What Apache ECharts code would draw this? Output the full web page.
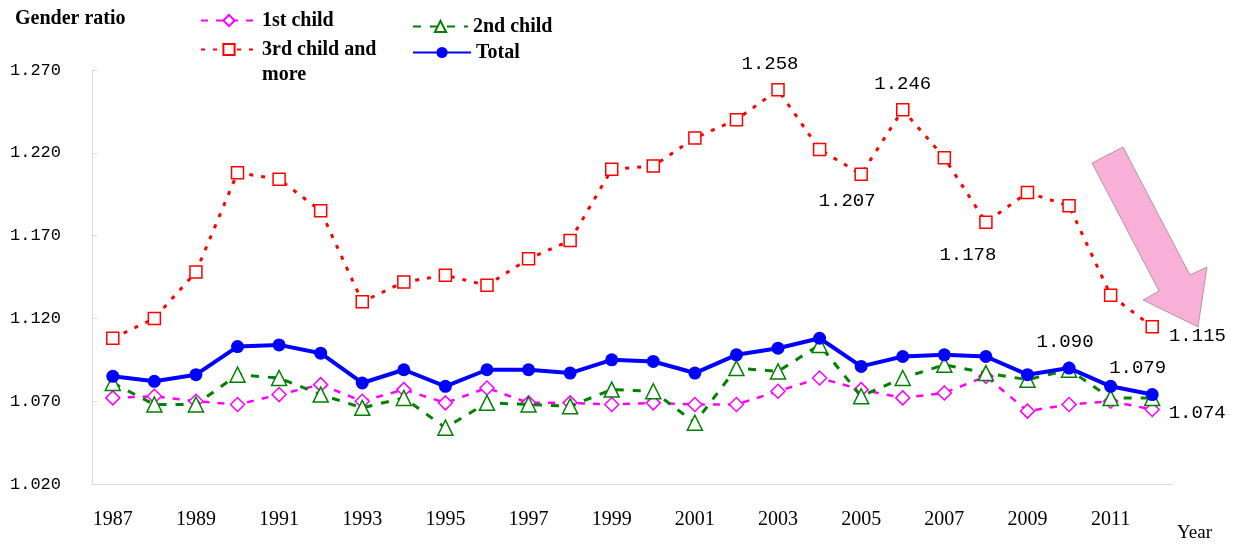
<!DOCTYPE html>
<html>
<head>
<meta charset="utf-8">
<script src="https://cdn.jsdelivr.net/npm/echarts@6/dist/echarts.min.js"></script>
<style>html,body{margin:0;padding:0;background:#fff}#c{width:1240px;height:544px}</style>
</head>
<body>
<div id="c"></div>
<script>
const years = ['1987','1988','1989','1990','1991','1992','1993','1994','1995','1996','1997','1998','1999','2000','2001','2002','2003','2004','2005','2006','2007','2008','2009','2010','2011','2012'];
const firstChild = [1.072,1.073,1.070,1.068,1.074,1.080,1.070,1.077,1.069,1.078,1.069,1.069,1.068,1.069,1.068,1.068,1.076,1.084,1.077,1.072,1.075,1.085,1.064,1.068,1.070,1.065];
const secondChild = [1.081,1.068,1.068,1.086,1.084,1.074,1.066,1.072,1.054,1.069,1.068,1.067,1.077,1.076,1.057,1.090,1.088,1.104,1.073,1.084,1.092,1.087,1.083,1.089,1.072,1.072];
const thirdPlus = [1.108,1.120,1.148,1.208,1.204,1.185,1.130,1.142,1.146,1.140,1.156,1.167,1.210,1.212,1.229,1.240,1.258,1.222,1.207,1.246,1.217,1.178,1.196,1.188,1.134,1.115];
const total = [1.085,1.082,1.086,1.103,1.104,1.099,1.081,1.089,1.079,1.089,1.089,1.087,1.095,1.094,1.087,1.098,1.102,1.108,1.091,1.097,1.098,1.097,1.086,1.090,1.079,1.074];
const yTicks = {min: 1.02, max: 1.27, step: 0.05};
const seriesNames = ['1st child', '2nd child', '3rd child and\nmore', 'Total'];
const thirdLabelled = {'2003': 'top', '2006': 'top', '2005': 'bottom', '2008': 'bottom', '2012': 'right'};
const totalLabelled = {'2010': 'top', '2011': 'top', '2012': 'right'};

const serif = 'Liberation Serif';
const mono = 'Liberation Mono';
const lblFont = {fontFamily: mono, fontSize: 19, color: '#000'};

function withLabels(values, labelled, offsets) {
  return values.map((v, i) => {
    const y = years[i];
    if (!labelled[y]) return v;
    return {value: v, label: Object.assign({show: true, position: labelled[y], distance: 10,
      formatter: p => p.value.toFixed(3), offset: offsets[y] || [0, 0]}, lblFont)};
  });
}

const chart = echarts.init(document.getElementById('c'), null, {renderer: 'canvas'});
const legendText = {fontFamily: serif, fontSize: 20, fontWeight: 'bold', color: '#000', lineHeight: 25};
const legendBase = {padding: 0, itemWidth: 56, itemHeight: 14, textStyle: legendText, selectedMode: false};

chart.setOption({
  animation: false,
  backgroundColor: '#fff',
  grid: {left: 92, right: 67, top: 70, bottom: 60, containLabel: false},
  legend: [
    Object.assign({}, legendBase, {data: [seriesNames[0]], left: 200, top: 8}),
    Object.assign({}, legendBase, {data: [seriesNames[1]], left: 412, top: 14, itemWidth: 55}),
    Object.assign({}, legendBase, {data: [seriesNames[2]], left: 200, top: 12,
      formatter: n => ' \n' + n}),
    Object.assign({}, legendBase, {data: [seriesNames[3]], left: 412, top: 40, itemWidth: 58})
  ],
  xAxis: {
    type: 'category', data: years, boundaryGap: true,
    axisLine: {lineStyle: {color: '#d9d9d9', width: 1}},
    axisTick: {inside: true, length: 6, interval: 0, lineStyle: {color: '#d9d9d9'}},
    axisLabel: {interval: 1, margin: 26, fontFamily: serif, fontSize: 20, color: '#000'},
    splitLine: {show: false}
  },
  yAxis: {
    type: 'value', min: yTicks.min, max: yTicks.max, interval: yTicks.step,
    axisLine: {show: true, lineStyle: {color: '#d9d9d9', width: 1}},
    axisTick: {show: true, inside: true, length: 5, lineStyle: {color: '#d9d9d9'}},
    axisLabel: {margin: 31, fontFamily: mono, fontSize: 17, color: '#000', formatter: v => v.toFixed(3)},
    splitLine: {show: false}
  },
  series: [
    {name: seriesNames[0], type: 'line', data: firstChild, z: 2,
      symbol: 'diamond', symbolSize: 14,
      lineStyle: {color: '#ff00ff', width: 2.5, type: [7, 8]},
      itemStyle: {color: '#fff', borderColor: '#ff00ff', borderWidth: 1.5}},
    {name: seriesNames[2], type: 'line', z: 3,
      data: withLabels(thirdPlus, thirdLabelled, {'2003': [-8, 0], '2005': [-14, 0], '2008': [-18, 6], '2012': [0, 9]}),
      symbol: 'rect', symbolSize: 12,
      lineStyle: {color: '#ff0000', width: 3, type: [4, 8]},
      itemStyle: {color: '#fff', borderColor: '#ff0000', borderWidth: 1.5}},
    {name: seriesNames[1], type: 'line', data: secondChild, z: 4,
      symbol: 'triangle', symbolSize: 15,
      lineStyle: {color: '#008000', width: 3, type: [8, 9]},
      itemStyle: {color: '#fff', borderColor: '#008000', borderWidth: 1.5}},
    {name: seriesNames[3], type: 'line', z: 5,
      data: withLabels(total, totalLabelled, {'2010': [-4, 0], '2011': [27, 8], '2012': [0, 18]}),
      symbol: 'circle', symbolSize: 13,
      lineStyle: {color: '#0000ff', width: 4},
      itemStyle: {color: '#0000ff', borderColor: '#0000ff', borderWidth: 0}}
  ],
  graphic: [
    {type: 'text', left: 15, top: 9, style: {text: 'Gender ratio', fontFamily: serif, fontSize: 20, fontWeight: 'bold', fill: '#000'}},
    {type: 'text', left: 1177, top: 524, style: {text: 'Year', fontFamily: serif, fontSize: 19, fill: '#000'}},
    {type: 'polygon', z: 1,
      shape: {points: [[1092, 163], [1123, 147], [1190, 275], [1207, 267], [1198, 327], [1143, 300], [1159, 291]]},
      style: {fill: '#f9b0d8', stroke: '#9a8a92', lineWidth: 0.8}}
  ]
});
</script>
</body>
</html>
